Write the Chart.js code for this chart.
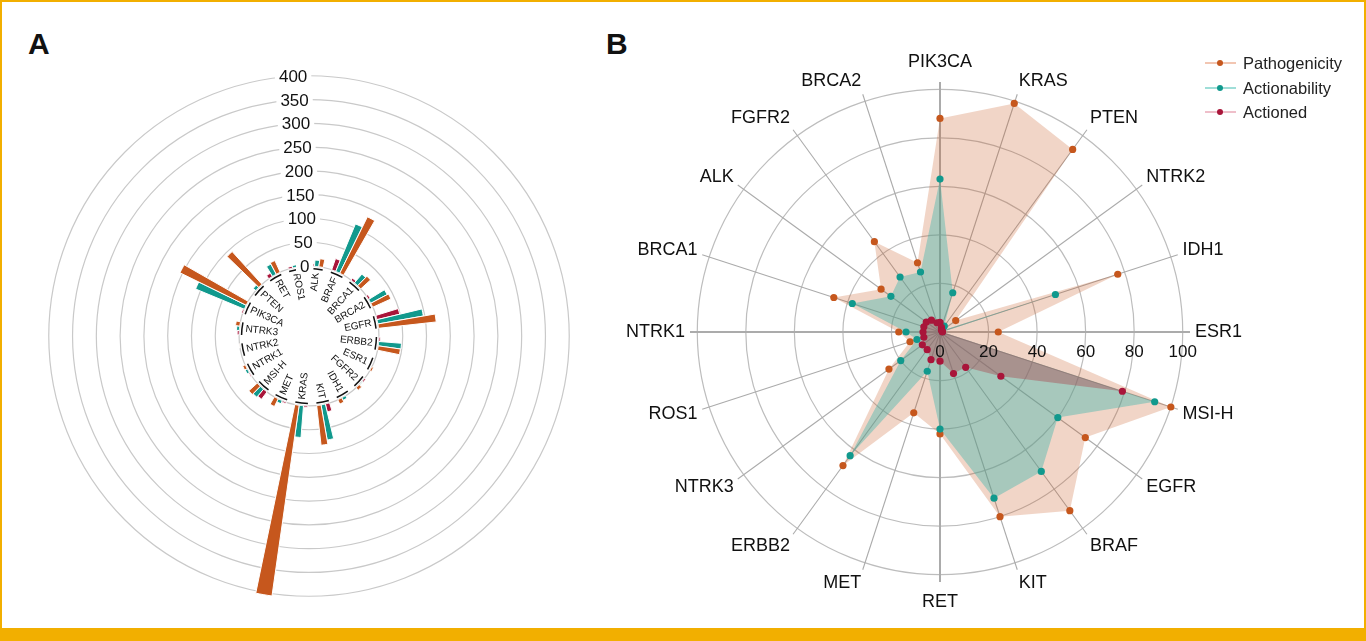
<!DOCTYPE html>
<html>
<head>
<meta charset="utf-8">
<script src="https://cdn.jsdelivr.net/npm/chart.js@4.4.1/dist/chart.umd.min.js"></script>
<style>
  body { margin: 0; background: #fff; font-family: "Liberation Sans", Arial, sans-serif; }
  #page { position: relative; width: 1366px; height: 641px; overflow: hidden; background: #fff; }
  #frame { position: absolute; left: 0; top: 0; width: 1362px; height: 627px; border: 2px solid #f2af00; border-bottom: none; }
  #band { position: absolute; left: 0; top: 628px; width: 1366px; height: 13px; background: #f2af00; }
  .letter { position: absolute; font-weight: bold; font-size: 30px; line-height: 1; color: #111; }
  canvas { position: absolute; }
  #legendB { position: absolute; left: 1205px; top: 51px; font-size: 16.5px; color: #222; }
  #legendB .item { position: relative; height: 24.5px; line-height: 24px; padding-left: 38px; white-space: nowrap; }
  #legendB .line { position: absolute; left: 0; top: 11px; width: 31px; height: 2px; }
  #legendB .dot { position: absolute; left: 12px; top: 9px; width: 6px; height: 6px; border-radius: 50%; }
</style>
</head>
<body>
<div id="page">
  <div id="frame"></div>
  <div id="band"></div>
  <div class="letter" style="left:28px; top:29px;">A</div>
  <div class="letter" style="left:606px; top:29px;">B</div>
  <canvas id="chartA" width="580" height="570" style="left:20px; top:50px;"></canvas>
  <canvas id="chartB" width="660" height="600" style="left:610px; top:32px;"></canvas>
  <div id="legendB"></div>
</div>
<script>
// ===============================
// Data - panel A (counts per gene)
// ===============================
const genesA = ["ALK", "BRAF", "BRCA1", "BRCA2", "EGFR", "ERBB2", "ESR1", "FGFR2", "IDH1", "KIT",
	"KRAS", "MET", "MSI-H", "NTRK1", "NTRK2", "NTRK3", "PIK3CA", "PTEN", "RET", "ROS1"];
const pathogenicityA = [17, 132, 28, 42, 122, 47, 4, 7, 10, 84, 405, 18, 24, 6, 1, 9, 155, 93, 27, 8];
const actionabilityA = [13, 108, 24, 39, 97, 48, 0, 1, 6, 75, 67, 7, 22, 5, 0, 6, 111, 7, 24, 5];
const actionedA = [5, 25, 5, 4, 49, 3, 0, 3, 0, 17, 3, 3, 19, 2, 0, 4, 3, 0, 8, 4];
const ticksA = [0, 50, 100, 150, 200, 250, 300, 350, 400];

// ===============================
// Data - panel B (percent per gene)
// ===============================
const genesB = ["PIK3CA", "KRAS", "PTEN", "NTRK2", "IDH1", "ESR1", "MSI-H", "EGFR", "BRAF", "KIT",
	"RET", "MET", "ERBB2", "NTRK3", "ROS1", "NTRK1", "BRCA1", "ALK", "FGFR2", "BRCA2"];
const pathogenicityB = [88, 99, 93, 8, 77, 24, 100, 74, 91, 80, 42, 35, 68, 26, 13, 17, 46, 30, 46, 30];
const actionabilityB = [63, 17, 3, 1, 50, 1, 93, 60, 71, 72, 40, 17, 63, 20, 10, 14, 38, 25, 28, 26];
const actionedB = [4, 2, 1, 1, 1, 1, 79, 31, 18, 18, 12, 12, 9, 9, 7, 7, 7, 7, 6, 4];
const ticksB = [0, 20, 40, 60, 80, 100];

const seriesNames = ["Pathogenicity", "Actionability", "Actioned"];

// ===============================
// Colours
// ===============================
const ORANGE = "#c6571d";
const TEAL = "#11998d";
const CRIMSON = "#a9153a";
const FONT = '"Liberation Sans", Arial, sans-serif';

// ===============================
// Panel A - radial bars (polar area, one slot per bar)
// ===============================
const slotLabels = [], slotValues = [], slotColors = [], slotBorders = [];
genesA.forEach((g, i) => {
	const group = [[0, "rgba(0,0,0,0)"], [actionedA[i], CRIMSON], [actionabilityA[i], TEAL], [pathogenicityA[i], ORANGE], [0, "rgba(0,0,0,0)"]];
	group.forEach(([v, c]) => {
		slotLabels.push(g);
		slotValues.push(v);
		slotColors.push(c);
		slotBorders.push(v > 0 ? 1 : 0);
	});
});

const radialBarDecor = {
	id: "radialBarDecor",
	afterDatasetsUpdate(chart) {
		const s = chart.scales.r;
		const r0 = s.getDistanceFromCenterForValue(0);
		chart.getDatasetMeta(0).data.forEach(arc => { arc.innerRadius = r0; });
	},
	afterDraw(chart) {
		const s = chart.scales.r;
		const ctx = chart.ctx;
		const cx = s.xCenter, cy = s.yCenter;
		const r0 = s.getDistanceFromCenterForValue(0);
		const arcs = chart.getDatasetMeta(0).data;
		ctx.save();

		// black base arc under every gene group
		ctx.strokeStyle = "#111";
		ctx.lineWidth = 1.5;
		genesA.forEach((g, i) => {
			ctx.beginPath();
			ctx.arc(cx, cy, r0 - 2.5, arcs[i * 5 + 1].startAngle, arcs[i * 5 + 3].endAngle);
			ctx.stroke();
		});

		// gene names inside the ring
		ctx.fillStyle = "#111";
		ctx.font = "10px " + FONT;
		ctx.textBaseline = "middle";
		genesA.forEach((g, i) => {
			const a = arcs[i * 5 + 2];
			const mid = (a.startAngle + a.endAngle) / 2;
			ctx.save();
			ctx.translate(cx, cy);
			if (Math.cos(mid) >= 0) {
				ctx.rotate(mid);
				ctx.textAlign = "right";
				ctx.fillText(g, r0 - 6, 0);
			} else {
				ctx.rotate(mid + Math.PI);
				ctx.textAlign = "left";
				ctx.fillText(g, -(r0 - 6), 0);
			}
			ctx.restore();
		});

		// value labels along the ring axis
		const ang = -3.5 * Math.PI / 180;
		ctx.font = "17px " + FONT;
		ctx.textAlign = "center";
		ticksA.forEach(v => {
			const r = s.getDistanceFromCenterForValue(v);
			const x = cx + r * Math.sin(ang), y = cy - r * Math.cos(ang);
			const w = ctx.measureText(String(v)).width;
			ctx.fillStyle = "#fff";
			ctx.fillRect(x - w / 2 - 4, y - 8, w + 8, 16);
			ctx.fillStyle = "#111";
			ctx.fillText(String(v), x, y + 1);
		});
		ctx.restore();
	}
};

new Chart(document.getElementById("chartA"), {
	type: "polarArea",
	data: {
		labels: slotLabels,
		datasets: [{
			data: slotValues,
			backgroundColor: slotColors,
			borderColor: "#fff",
			borderWidth: slotBorders
		}]
	},
	options: {
		responsive: false,
		animation: false,
		layout: { padding: { left: 24, top: 21, right: 26, bottom: 19 } },
		plugins: { legend: { display: false }, tooltip: { enabled: false } },
		scales: {
			r: {
				min: -147,
				max: 410,
				startAngle: -2.7,
				ticks: { display: false, stepSize: 50 },
				afterBuildTicks: s => { s.ticks = ticksA.map(v => ({ value: v })); },
				grid: { circular: true, color: "#c9c9c9", lineWidth: 1.2 },
				angleLines: { display: false },
				pointLabels: { display: false }
			}
		}
	},
	plugins: [radialBarDecor]
});

// ===============================
// Panel B - radar
// ===============================
const radarText = {
	id: "radarText",
	afterDraw(chart) {
		const s = chart.scales.r;
		const ctx = chart.ctx;
		ctx.save();
		ctx.fillStyle = "#111";
		ctx.textBaseline = "middle";
		ctx.font = "18px " + FONT;
		genesB.forEach((g, i) => {
			const a = s.getIndexAngle(i);
			const sin = Math.sin(a), cos = Math.cos(a);
			const axial = Math.abs(sin) < 0.05;
			const p = s.getPointPosition(i, s.drawingArea + 5 + (axial ? 6 : 0));
			ctx.textAlign = axial ? "center" : (sin > 0 ? "left" : "right");
			ctx.fillText(g, p.x, p.y - 9 * cos);
		});
		ctx.font = "17px " + FONT;
		ctx.textAlign = "center";
		ticksB.forEach(v => {
			ctx.fillText(String(v), s.xCenter + s.getDistanceFromCenterForValue(v), s.yCenter + 20);
		});
		ctx.restore();
	}
};

new Chart(document.getElementById("chartB"), {
	type: "radar",
	data: {
		labels: genesB,
		datasets: [
			{ label: seriesNames[0], data: pathogenicityB, order: 3, fill: true,
				backgroundColor: "rgba(200,88,30,0.25)", borderColor: "rgba(0,0,0,0)",
				pointBackgroundColor: ORANGE, pointBorderColor: ORANGE },
			{ label: seriesNames[1], data: actionabilityB, order: 2, fill: true,
				backgroundColor: "rgba(54,180,172,0.4)", borderColor: "rgba(0,0,0,0)",
				pointBackgroundColor: TEAL, pointBorderColor: TEAL },
			{ label: seriesNames[2], data: actionedB, order: 1, fill: true,
				backgroundColor: "rgba(171,65,76,0.4)", borderColor: "rgba(0,0,0,0)",
				pointBackgroundColor: CRIMSON, pointBorderColor: CRIMSON }
		]
	},
	options: {
		responsive: false,
		animation: false,
		layout: { padding: { left: 80, top: 50, right: 80, bottom: 50 } },
		elements: {
			line: { tension: 0, borderWidth: 1 },
			point: { radius: 3.6, borderWidth: 0 }
		},
		plugins: { legend: { display: false }, tooltip: { enabled: false } },
		scales: {
			r: {
				min: 0,
				max: 103,
				startAngle: 0,
				ticks: { display: false, stepSize: 20 },
				afterBuildTicks: s => { s.ticks = ticksB.map(v => ({ value: v })); },
				grid: { circular: true, color: "#bdbdbd", lineWidth: 1.2 },
				angleLines: { color: "#ababab", lineWidth: c => (c.index % 5 === 0 ? 2 : 1.1) },
				pointLabels: { display: false }
			}
		}
	},
	plugins: [radarText]
});

// ===============================
// Legend for panel B
// ===============================
const legendColors = [["#f2c6b2", ORANGE], ["#9fded8", TEAL], ["#efbfca", CRIMSON]];
document.getElementById("legendB").innerHTML = seriesNames.map((name, i) =>
	`<div class="item"><span class="line" style="background:${legendColors[i][0]}"></span>` +
	`<span class="dot" style="background:${legendColors[i][1]}"></span>${name}</div>`
).join("");
</script>
</body>
</html>
